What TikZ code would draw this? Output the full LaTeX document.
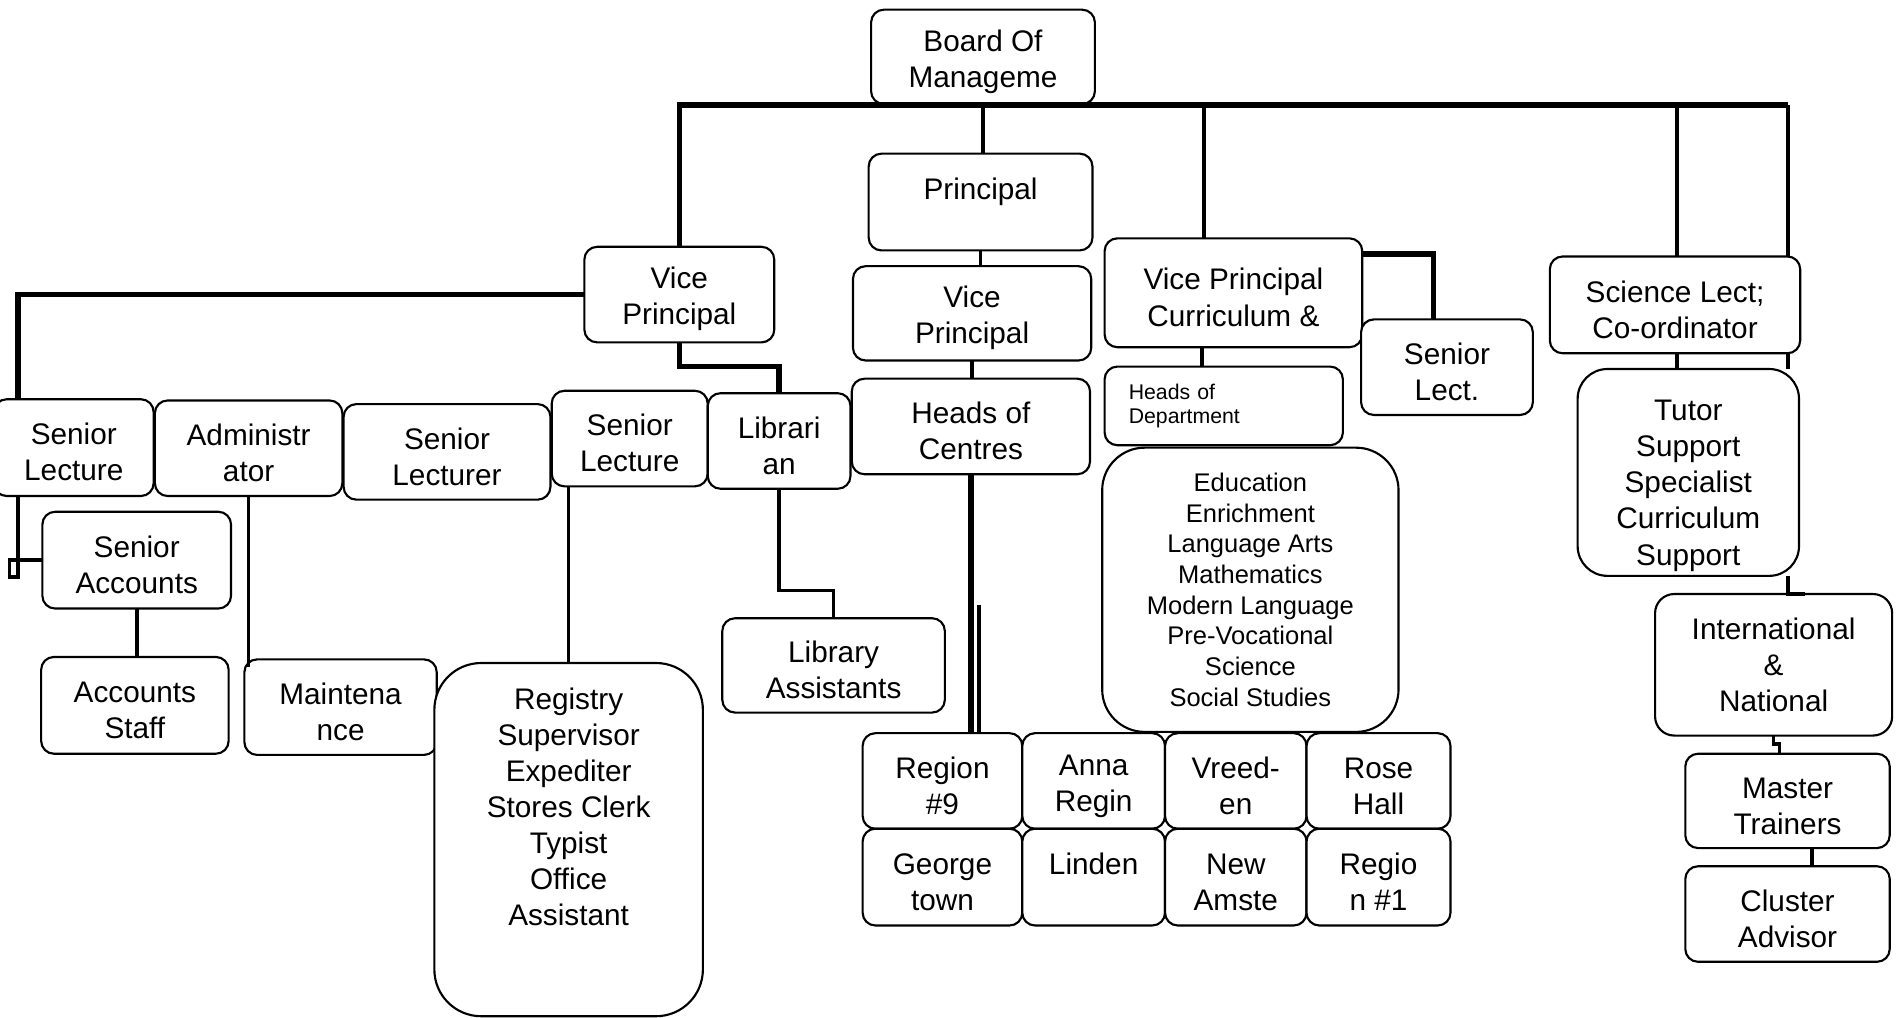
\documentclass[tikz,border=0pt]{standalone}
\usepackage{fontspec}
\setmainfont{Liberation Sans}
\usetikzlibrary{positioning, calc}
\tikzset{
	frame/.style={draw, line width=1pt, rounded corners=6pt, fill=white, inner sep=1pt, outer sep=0pt},
	box/.style={frame, align=center, font=\fontsize{14}{17}\selectfont, execute at begin node={\rule{0pt}{31.5pt}}},
	sz/.style 2 args={minimum width=#1cm, minimum height=#2cm},
	link/.style={draw, line width=1.7pt},
	trunk/.style={draw, line width=2.6pt}
}

\begin{document}
\begin{tikzpicture}[
	x=0.02cm, y=-0.02cm,
	% --- STYLES (special boxes) ---
	small/.style={frame, font=\fontsize{10}{11.4}\selectfont, align=left, text width=3.14cm, inner xsep=0.4cm},
	list/.style={font=\fontsize{12}{14.4}\selectfont}
	]
	\useasboundingbox (0,0) rectangle (1568,841);

	% --- Top of the chart ---
	\node[box, sz={3.70}{1.56}] (board) at (812.5,47) {Board Of\\Manageme};
	\node[box, sz={3.70}{1.60}] (prin) at (810.5,167) {Principal\\~};
	\node[box, sz={3.94}{1.56}] (vpm) at (803.5,259) {Vice\\Principal};
	\node[box, sz={3.94}{1.58}] (hoc) at (802.5,352.5) {Heads of\\Centres};
	\node[box, sz={3.14}{1.58}] (vpl) at (561.5,243.5) {Vice\\Principal};
	\node[box, sz={4.26}{1.80}] (vpcur) at (1019.5,242) {Vice Principal\\Curriculum \&};
	\node[box, sz={2.84}{1.58}] (slect) at (1196,303.5) {Senior\\Lect.};
	\node[small, sz={3.94}{1.30}] (hod) at (1011.5,335.5) {Heads of\\Department};
	\node[box, sz={4.90}{4.70}, list, rounded corners=20pt] (subj) at (1033.5,487.5) {Education\\Enrichment\\Language Arts\\Mathematics\\Modern Language\\Pre-Vocational\\Science\\Social Studies};

	% --- Right column ---
	\node[box, sz={4.14}{1.60}] (sci) at (1384.5,252) {Science Lect;\\Co-ordinator};
	\node[box, sz={3.66}{3.42}, rounded corners=14pt] (tutor) at (1395.5,390.5) {\rule{0pt}{22pt}Tutor\\Support\\Specialist\\Curriculum\\Support};
	\node[box, sz={3.92}{2.34}, rounded corners=9pt] (intl) at (1466,549.5) {International\\\&\\National};
	\node[box, sz={3.38}{1.56}] (mast) at (1477.5,662) {Master\\Trainers};
	\node[box, sz={3.38}{1.58}] (clus) at (1477.5,755.5) {Cluster\\Advisor};

	% --- Centres ---
	\node[box, sz={2.64}{1.58}] (r9) at (779,645.5) {Region\\\#9};
	\node[box, sz={2.36}{1.58}, right=0pt of r9] (anna) {Anna\\Regin};
	\node[box, sz={2.34}{1.58}, right=0pt of anna] (vreed) {Vreed-\\en};
	\node[box, sz={2.38}{1.58}, right=0pt of vreed] (rose) {Rose\\Hall};
	\node[box, sz={2.64}{1.60}, below=0pt of r9] (geo) {George\\town};
	\node[box, sz={2.36}{1.60}, below=0pt of anna] (lind) {Linden\\~};
	\node[box, sz={2.34}{1.60}, below=0pt of vreed] (newam) {New\\Amste};
	\node[box, sz={2.38}{1.60}, below=0pt of rose] (reg1) {Regio\\n \#1};

	% --- Left side ---
	\node[box, sz={2.64}{1.60}] (sl1) at (61,370) {Senior\\Lecture};
	\node[box, sz={3.10}{1.58}] (adm) at (205.5,370.5) {Administr\\ator};
	\node[box, sz={3.42}{1.58}] (slr) at (369.5,373.5) {Senior\\Lecturer};
	\node[box, sz={2.58}{1.58}] (sl2) at (520.5,362.5) {Senior\\Lecture};
	\node[box, sz={2.36}{1.58}] (libn) at (644,364.5) {Librari\\an};
	\node[box, sz={3.12}{1.60}] (sacc) at (113,463) {Senior\\Accounts};
	\node[box, sz={3.10}{1.60}] (accs) at (111.5,583) {Accounts\\Staff};
	\node[box, sz={3.18}{1.58}] (mnt) at (281.5,584.5) {Maintena\\nce};
	\node[box, sz={4.44}{5.84}, rounded corners=22pt] (regy) at (470,694) {Registry\\Supervisor\\Expediter\\Stores Clerk\\Typist\\Office\\Assistant\\[14pt]~};
	\node[box, sz={3.68}{1.56}] (libas) at (689,550) {Library\\Assistants};

	% --- Junctions ---
	\coordinate (jv) at (995,87);
	\coordinate (js) at (1386,87);
	\coordinate (jr) at (1478,87);
	\coordinate (jl) at (15,243.5);
	\coordinate (jc) at (809,500);
	\coordinate (jd) at ($(vpcur.south)+(-26,0)$);

	% --- Connections ---
	\draw[trunk] (vpl.north) |- (jr);
	\draw[link] (board.south) -- (board.south |- prin.north);
	\draw[link] (jv) -- (jv |- vpcur.north);
	\draw[link] (js) -- (js |- sci.north);
	\draw[link] (jr) -- (jr |- sci.north);
	\draw[link] (js |- sci.south) -- (js |- tutor.north);
	\draw[link] (jr |- sci.south) -- (jr |- tutor.north);
	\draw[link] (jr |- tutor.south) -- (jr |- intl.north) -- ++(14,0);
	\draw[link] (intl.south) -- ++(0,7) -| ($(intl.south |- mast.north)+(5,0)$);
	\draw[link] ([xshift=0.4cm]mast.south) -- ([xshift=0.4cm]clus.north);
	\draw[link] (prin.south) -- (prin.south |- vpm.north);
	\draw[link] (vpm.south) -- (vpm.south |- hoc.north);
	\draw[trunk] (hoc.south) -- (hoc.south |- r9.north);
	\draw[link] (jc) -- (jc |- r9.north);
	\draw[link] (jd) -- (jd |- hod.north);
	\draw[trunk] ([yshift=0.64cm]vpcur.east) -| ([xshift=-0.22cm]slect.north);

	\draw[trunk] (vpl.west) -- (jl) -- (jl |- sl1.north);
	\draw[link] (jl |- sl1.south) |- (8,477) |- (sacc.west);
	\draw[trunk] (vpl.south) -- ++(0,20) -| (libn.north);
	\draw[link] (sacc.south) -- (sacc.south |- accs.north);
	\draw[link] (adm.south) -- ($(adm.south |- mnt.north)+(0,6)$);
	\draw[link] (regy.north |- sl2.south) -- (regy.north);
	\draw[link] (libn.south) -- ++(0,84) -| (libas.north);

\end{tikzpicture}
\end{document}
